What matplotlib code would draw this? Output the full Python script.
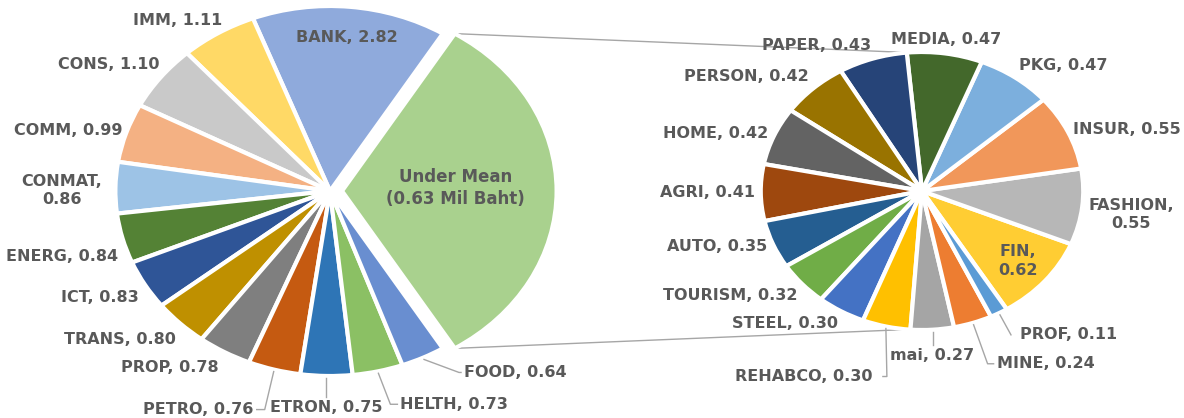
import numpy as np
import matplotlib.pyplot as plt

# main pie (counter-clockwise after the "Under Mean" slice)
main_labels = ["BANK", "IMM", "CONS", "COMM", "CONMAT", "ENERG", "ICT",
               "TRANS", "PROP", "PETRO", "ETRON", "HELTH", "FOOD"]
main_values = [2.82, 1.11, 1.10, 0.99, 0.86, 0.84, 0.83, 0.80, 0.78,
               0.76, 0.75, 0.73, 0.64]
main_colors = ["#8FAADC", "#FFD966", "#C9C9C9", "#F4B183", "#9DC3E6",
               "#548235", "#2F5597", "#BF9000", "#7F7F7F", "#C55A11",
               "#2E75B6", "#8BC064", "#698ED0"]

# secondary pie = the "Under Mean" group
sub_labels = ["FIN", "FASHION", "INSUR", "PKG", "MEDIA", "PAPER", "PERSON",
              "HOME", "AGRI", "AUTO", "TOURISM", "STEEL", "REHABCO", "mai",
              "MINE", "PROF"]
sub_values = [0.62, 0.55, 0.55, 0.47, 0.47, 0.43, 0.42, 0.42, 0.41, 0.35,
              0.32, 0.30, 0.30, 0.27, 0.24, 0.11]
sub_colors = ["#FFCD33", "#B7B7B7", "#F1975A", "#7CAFDD", "#43682B",
              "#264478", "#997300", "#636363", "#9E480E", "#255E91",
              "#70AD47", "#4472C4", "#FFC000", "#A5A5A5", "#ED7D31",
              "#5B9BD5"]

under_text = "Under Mean\n(0.63 Mil Baht)"
under_color = "#A9D18E"

TXT = "#595959"
LINE = "#A6A6A6"
SX = 1.16   # the original picture is stretched sideways

W, H = 1184, 418
fig = plt.figure(figsize=(W / 100, H / 100), dpi=100)
ax = fig.add_axes([0, 0, 1, 1])

# geometry in pixels (y up), radius = vertical radius
L_CX, L_CY, L_R = 330, 227, 185
R_CX, R_CY, R_R = 922, 227, 139
EXPL = 12

left_vals = [sum(sub_values)] + main_values
start = -180 * left_vals[0] / sum(left_vals)
wp = dict(edgecolor="white", linewidth=3)

wl, _ = ax.pie(left_vals, colors=[under_color] + main_colors,
               startangle=start, center=(L_CX / SX, L_CY), radius=L_R,
               explode=[EXPL / SX] + [0] * len(main_values), wedgeprops=wp)
wr, _ = ax.pie(sub_values, colors=sub_colors, startangle=start,
               center=(R_CX / SX, R_CY), radius=R_R, wedgeprops=wp)


def rim(cx, cy, r, ang, pad=0.0):
    a = np.radians(ang)
    return cx + (r * SX + pad) * np.cos(a), cy + (r + pad) * np.sin(a)


def put(x, y, s, ha="center", va="center", size=11.5):
    ax.text(x / SX, y, s, ha=ha, va=va, fontsize=size, fontweight="bold",
            color=TXT, multialignment="center", linespacing=1.3)


def mid(w):
    return 0.5 * (w.theta1 + w.theta2)


def outside(cx, cy, r, ang, s, nudge=(0, 0)):
    x, y = rim(cx, cy, r, ang, 6)
    c, sn = np.cos(np.radians(ang)), np.sin(np.radians(ang))
    ha = "left" if c > 0.2 else "right" if c < -0.2 else "center"
    va = "bottom" if sn > 0.6 else "top" if sn < -0.6 else "center"
    put(x + nudge[0], y + nudge[1], s, ha, va)


def leader(cx, cy, r, ang, s, dx, dy, side, tail=0, gap=3):
    x0, y0 = rim(cx, cy, r, ang, 2)
    x1, y1 = x0 + dx, y0 + dy
    xs, ys = [x0, x1], [y0, y1]
    if side == "below":
        put(x1, y1 - gap, s, "center", "top")
    else:
        sg = 1 if side == "right" else -1
        xs.append(x1 + sg * tail)
        ys.append(y1)
        put(x1 + sg * (tail + gap), y1, s,
            "left" if sg > 0 else "right", "center")
    ax.plot(np.array(xs) / SX, ys, color=LINE, lw=1)


nudges = {"IMM": (7, 0), "CONS": (4, 2), "COMM": (2, 0), "CONMAT": (-7, -3),
          "ENERG": (1, -16), "ICT": (-1, -10), "TRANS": (0, -4),
          "PROP": (-3, -3), "FASHION": (0, -7)}
leaders = {"PETRO": (-9, -38, "left", 8, 3), "ETRON": (0, -19, "below", 0, 3),
           "HELTH": (12, -31, "right", 7, 3), "FOOD": (35, -13, "right", 2, 3),
           "PROF": (11, -20, "right", 0, 9), "MINE": (14, -39, "right", 6, 3),
           "mai": (0, -13, "below", 0, 3),
           "REHABCO": (1, -48, "left", 4, 10)}
two_line = {"CONMAT", "FASHION", "FIN"}

# main pie labels
ex = EXPL
put(L_CX + ex + 0.53 * L_R * SX, L_CY + 3, under_text, size=12)
for w, name, v in zip(wl[1:], main_labels, main_values):
    s = f"{name},\n{v:.2f}" if name in two_line else f"{name}, {v:.2f}"
    a = mid(w)
    if name == "BANK":
        x, y = rim(L_CX, L_CY, 0.835 * L_R, a)
        put(x, y, s)
    elif name in leaders:
        leader(L_CX, L_CY, L_R, a, s, *leaders[name])
    else:
        outside(L_CX, L_CY, L_R, a, s, nudges.get(name, (0, 0)))

# secondary pie labels
for w, name, v in zip(wr, sub_labels, sub_values):
    s = f"{name},\n{v:.2f}" if name in two_line else f"{name}, {v:.2f}"
    a = mid(w)
    if name == "FIN":
        x, y = rim(R_CX, R_CY, 0.78 * R_R, a)
        put(x, y, s)
    elif name in leaders:
        leader(R_CX, R_CY, R_R, a, s, *leaders[name])
    else:
        outside(R_CX, R_CY, R_R, a, s, nudges.get(name, (0, 0)))

# connector lines between the pies
for sign in (1, -1):
    x0, y0 = rim(L_CX + ex, L_CY, L_R, sign * wl[0].theta2)
    x1, y1 = rim(R_CX, R_CY, R_R, sign * 95)
    ax.plot([x0 / SX, x1 / SX], [y0, y1], color=LINE, lw=1, zorder=0)

ax.set_aspect("auto")
ax.set_xlim(0, W / SX)
ax.set_ylim(0, H)
ax.axis("off")

fig.savefig("out.png", dpi=100)
